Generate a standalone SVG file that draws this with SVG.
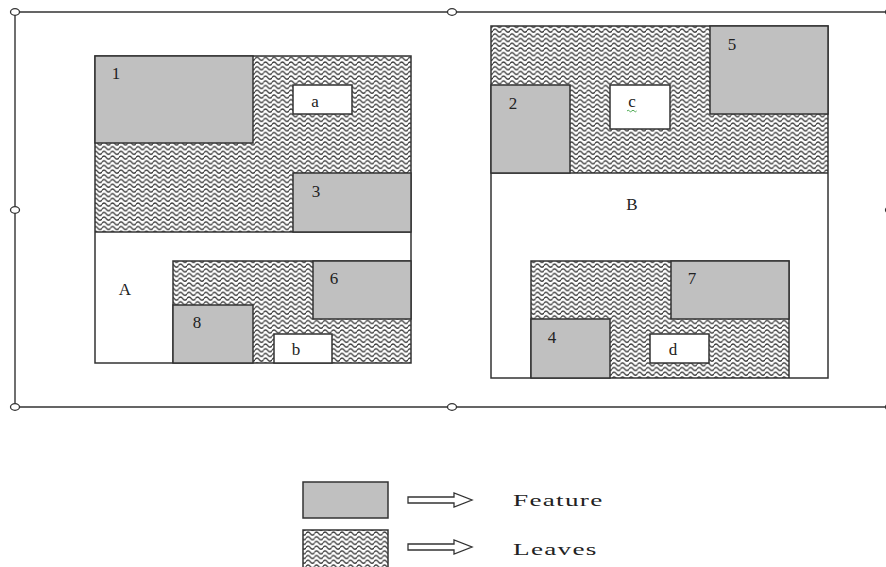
<svg xmlns="http://www.w3.org/2000/svg" width="886" height="567" viewBox="0 0 886 567">
  <defs>
    <pattern id="wave" patternUnits="userSpaceOnUse" width="8.5" height="4.7">
      <rect width="8.5" height="4.7" fill="#fff"/>
      <path d="M-0.2 2.5 C1.4 0.5 2.8 0.5 4.25 2.5 S7.1 4.5 8.7 2.5" fill="none" stroke="#333" stroke-width="1.3"/>
    </pattern>
  </defs>
  <style>
    .edge { fill: none; stroke: #333; stroke-width: 1.4; }
    .handle { fill: #fff; stroke: #333; stroke-width: 1.3; }
    .outline { fill: none; stroke: #333; stroke-width: 1.5; }
    .page { fill: #fff; stroke: none; }
    .leaf { fill: url(#wave); stroke: none; }
    .feat { fill: #c0c0c0; stroke: #333; stroke-width: 1.5; }
    .hole { fill: #fff; stroke: #333; stroke-width: 1.5; }
    .lbl { font-family: "Liberation Serif", "DejaVu Serif", serif; font-size: 17px; fill: #222; text-anchor: middle; }
    .leg { font-family: "Liberation Serif", "DejaVu Serif", serif; font-size: 17px; fill: #222; letter-spacing: 0.8px; }
    .arrow { fill: #fff; stroke: #333; stroke-width: 1.3; stroke-linejoin: miter; }
  </style>

  <!-- selection frame with resize handles -->
  <g id="frame">
    <path class="edge" d="M15 12 H890 M15 12 V407 M15 407 H890"/>
    <ellipse class="handle" cx="15" cy="12" rx="4.5" ry="3.3"/>
    <ellipse class="handle" cx="452" cy="12" rx="4.5" ry="3.3"/>
    <ellipse class="handle" cx="890" cy="12" rx="4.5" ry="3.3"/>
    <ellipse class="handle" cx="15" cy="210" rx="4.5" ry="3.3"/>
    <ellipse class="handle" cx="890" cy="210" rx="4.5" ry="3.3"/>
    <ellipse class="handle" cx="15" cy="407" rx="4.5" ry="3.3"/>
    <ellipse class="handle" cx="452" cy="407" rx="4.5" ry="3.3"/>
    <ellipse class="handle" cx="890" cy="407" rx="4.5" ry="3.3"/>
  </g>

  <!-- page A -->
  <g id="pageA">
    <rect class="page" x="95" y="56" width="316" height="307"/>
    <path class="leaf" d="M95 56 H411 V232 H95 Z"/>
    <path class="leaf" d="M173 261 H411 V363 H173 Z"/>
    <path class="outline" d="M95 232 H411 M173 363 V261 H411"/>
    <rect class="outline" x="95" y="56" width="316" height="307"/>
    <g id="f1"><rect class="feat" x="95" y="56" width="158" height="87"/><text class="lbl" x="116" y="79">1</text></g>
    <g id="f3"><rect class="feat" x="293" y="173" width="118" height="59"/><text class="lbl" x="316" y="197">3</text></g>
    <g id="f6"><rect class="feat" x="313" y="261" width="98" height="58"/><text class="lbl" x="334" y="284">6</text></g>
    <g id="f8"><rect class="feat" x="173" y="305" width="80" height="58"/><text class="lbl" x="197" y="328">8</text></g>
    <g id="ha"><rect class="hole" x="293" y="85" width="59" height="29"/><text class="lbl" x="315" y="107">a</text></g>
    <g id="hb"><rect class="hole" x="274" y="334" width="58" height="29"/><text class="lbl" x="296" y="355">b</text></g>
    <text class="lbl" x="125" y="295">A</text>
  </g>

  <!-- page B -->
  <g id="pageB">
    <rect class="page" x="491" y="26" width="337" height="352"/>
    <path class="leaf" d="M491 26 H828 V173 H491 Z"/>
    <path class="leaf" d="M531 261 H789 V378 H531 Z"/>
    <path class="outline" d="M491 173 H828 M531 378 V261 H789 V378"/>
    <rect class="outline" x="491" y="26" width="337" height="352"/>
    <g id="f5"><rect class="feat" x="710" y="26" width="118" height="88"/><text class="lbl" x="732" y="50">5</text></g>
    <g id="f2"><rect class="feat" x="491" y="85" width="79" height="88"/><text class="lbl" x="513" y="109">2</text></g>
    <g id="f7"><rect class="feat" x="671" y="261" width="118" height="58"/><text class="lbl" x="692" y="284">7</text></g>
    <g id="f4"><rect class="feat" x="531" y="319" width="79" height="59"/><text class="lbl" x="552" y="343">4</text></g>
    <g id="hc">
      <rect class="hole" x="610" y="85" width="60" height="44"/>
      <text class="lbl" x="632" y="107">c</text>
      <path d="M627 111 q1.2 -1.6 2.4 0 t2.4 0 t2.4 0 t2.4 0" fill="none" stroke="#3aa040" stroke-width="0.9"/>
    </g>
    <g id="hd"><rect class="hole" x="650" y="334" width="59" height="29"/><text class="lbl" x="673" y="355">d</text></g>
    <text class="lbl" x="632" y="210">B</text>
  </g>

  <!-- legend -->
  <g id="legend">
    <g id="legFeature">
      <rect class="feat" x="303" y="482" width="85" height="36"/>
      <path class="arrow" d="M408 497 H454 V493 L472 500 L454 507 V503 H408 Z"/>
      <text class="leg" transform="translate(513 506) scale(1.6 1)">Feature</text>
    </g>
    <g id="legLeaves">
      <rect x="303" y="530" width="85" height="40" fill="url(#wave)" stroke="#333" stroke-width="1.5"/>
      <path class="arrow" d="M408 544 H454 V540 L472 547 L454 554 V550 H408 Z"/>
      <text class="leg" transform="translate(513 555) scale(1.6 1)">Leaves</text>
    </g>
  </g>
</svg>
